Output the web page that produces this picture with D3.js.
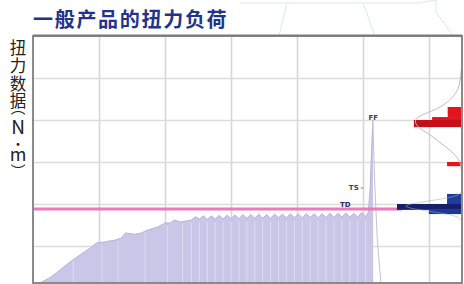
<!DOCTYPE html>
<html>
<head>
<meta charset="utf-8">
<script src="https://cdn.jsdelivr.net/npm/d3@7"></script>
<style>
  html, body { margin: 0; padding: 0; background: #fff; }
  svg { display: block; }
</style>
</head>
<body>
<svg id="chart" width="464" height="284"></svg>
<script>
// torque curve of one tightening (time units, N·m scaled)
var timeS = [0, 2.1, 5.2, 8.2, 11.2, 14.3, 17.3, 19.2, 21.9, 24.9, 26.8, 28.0, 31.0, 32.8, 34.7, 37.7, 40.1, 41.6, 42.9, 44.7, 46.5,
  48.0, 49.2, 50.4, 51.6, 52.8, 54.0, 55.2, 56.4, 57.6, 58.8, 60.0, 61.2, 62.4, 63.6, 64.8, 66.0, 67.2, 68.4, 69.6, 70.8,
  72.0, 73.2, 74.4, 75.6, 76.8, 78.0, 79.2, 80.4, 81.6, 82.8, 84.0, 85.2, 86.4, 87.6, 88.8, 90.0, 91.2, 92.4, 93.6, 94.8,
  96.0, 97.2, 98.4, 99.6, 100.8, 101.6, 102.2, 102.6, 103.0, 103.1];
var torque = [0.05, 0.12, 0.25, 0.43, 0.62, 0.79, 0.95, 1.07, 1.10, 1.14, 1.19, 1.31, 1.28, 1.31, 1.38, 1.45, 1.55, 1.55, 1.62, 1.57, 1.60,
  1.62, 1.70, 1.64, 1.72, 1.63, 1.72, 1.64, 1.73, 1.64, 1.74, 1.65, 1.74, 1.65, 1.75, 1.66, 1.75, 1.66, 1.76, 1.66, 1.75,
  1.66, 1.76, 1.67, 1.76, 1.67, 1.77, 1.67, 1.76, 1.67, 1.77, 1.68, 1.77, 1.67, 1.77, 1.68, 1.78, 1.68, 1.78, 1.69, 1.79,
  1.69, 1.78, 1.69, 1.80, 1.70, 1.80, 2.40, 3.30, 4.00, 0.00];

// release of the tool after final torque (thin trace only)
var tailTime = [103.0, 103.5, 104.3, 105.0, 105.6];
var tailTorque = [4.00, 2.60, 1.20, 0.50, 0.00];

// cycle boundaries visible as light stripes in the ramp-up part
var rampStripes = [12.2, 20.9, 25.8, 34.0, 40.8, 45.3];

// event labels
var eventNames = ["TD", "TS", "FF"];
var eventTime = [94.6, 99.6, 103.1];
var eventTorque = [1.98, 2.38, 4.05];

// limit line
var limitTorque = 1.88;
var limitEnd = 111.8;

// histograms on the right (bins in N·m, counts)
var redBinLo = [4.07, 4.00, 3.83, 2.90];
var redBinHi = [4.31, 4.07, 4.00, 3.00];
var redCount = [2.2, 4.6, 7.4, 2.3];
var blueBinLo = [2.00, 1.86, 1.76];
var blueBinHi = [2.24, 2.00, 1.86];
var blueCount = [2.3, 10.0, 5.1];

// fitted distribution outlines
var redCurveT = [5.43, 5.19, 4.95, 4.71, 4.55, 4.31, 4.12, 4.00, 3.83, 3.71, 3.60, 3.43, 3.29, 3.10, 2.93, 2.69];
var redCurveN = [0.05, 0.1, 0.25, 0.6, 1.4, 3.0, 6.3, 7.4, 6.9, 5.5, 4.5, 3.1, 1.9, 0.6, 0.15, 0.05];
var blueCurveT = [2.30, 2.20, 2.14, 2.05, 1.95, 1.85, 1.76, 1.70, 1.60];
var blueCurveN = [0, 0.6, 2.3, 6.0, 10.0, 6.0, 2.3, 0.6, 0];

// axes
var xTicks = [20, 40, 60, 80, 100, 120];
var yTicks = [1, 2, 3, 4, 5];
var titleText = "一般产品的扭力负荷";
var yLabelChars = ["扭", "力", "数", "据", "︵", "N", "・", "m", "︶"];

var mLeft = 33, mTop = 36, mRight = 462, mBottom = 283;
var w = mRight - mLeft, h = mBottom - mTop;

var svg = d3.select("#chart");

var x = d3.scaleLinear().domain([0, 130]).range([mLeft, mRight]);
var y = d3.scaleLinear().domain([0, 6]).range([288, 36]);
var cnt = d3.scaleLinear().domain([0, 10]).range([mRight, mRight - 65]);

// faint background decoration at the top
var deco = svg.append("g").attr("fill", "none").attr("stroke", "#d7e8f7").attr("stroke-width", 1);
deco.append("path").attr("d", "M240,3 L287,3 L279,36 M287,3 L363,3 L375,36 M363,3 L417,3 L436,0 M436,0 L436,12 L452,34");

// title
svg.append("text")
  .attr("x", 33).attr("y", 27)
  .attr("font-family", "'Noto Sans CJK SC', sans-serif")
  .attr("font-weight", "bold")
  .attr("font-size", 20)
  .attr("letter-spacing", 1.7)
  .attr("fill", "#22338c")
  .text(titleText);

// y label, stacked characters, each centred on its slot
// (the vertical bracket glyphs sit off-centre in their em box, hence the shifted slots)
var yLabelPos = [46.5, 64.5, 82.5, 99.5, 106.5, 125.5, 143, 152.5, 170.5];
var yLabelSize = [16.5, 16.5, 16.5, 16.5, 15, 19, 13, 18, 15];
var ylab = svg.append("g").selectAll("text")
  .data(yLabelChars)
  .join("text")
  .attr("x", 0).attr("y", 0)
  .attr("text-anchor", "middle")
  .attr("dominant-baseline", "central")
  .attr("font-family", "'Noto Sans CJK SC', sans-serif")
  .attr("font-size", function(d, i) { return yLabelSize[i]; })
  .attr("fill", "#222")
  .text(function(d) { return d; });
ylab.each(function(d, i) {
  var bb = this.getBBox();
  var cy = bb.y + bb.height / 2;
  d3.select(this).attr("transform", "translate(18," + (yLabelPos[i] - cy) + ")");
});

svg.append("defs").append("clipPath").attr("id", "plotclip")
  .append("rect").attr("x", mLeft).attr("y", mTop).attr("width", w).attr("height", h);

var plot = svg.append("g").attr("clip-path", "url(#plotclip)");

// gridlines
plot.append("g")
  .attr("transform", "translate(0," + mBottom + ")")
  .call(d3.axisBottom(x).tickValues(xTicks).tickSize(-h).tickFormat(""))
  .call(function(g) {
    g.select(".domain").remove();
    g.selectAll("line").attr("stroke", "#d6d6d6").attr("stroke-width", 1.6);
  });
plot.append("g")
  .attr("transform", "translate(" + mLeft + ",0)")
  .call(d3.axisLeft(y).tickValues(yTicks).tickSize(-w).tickFormat(""))
  .call(function(g) {
    g.select(".domain").remove();
    g.selectAll("line").attr("stroke", "#dcdcdc").attr("stroke-width", 1.4);
  });

// torque curve area
var pts = timeS.map(function(t, i) { return [t, torque[i]]; });
var area = d3.area()
  .x(function(d) { return x(d[0]); })
  .y0(y(0))
  .y1(function(d) { return y(d[1]); });
var line = d3.line()
  .x(function(d) { return x(d[0]); })
  .y(function(d) { return y(d[1]); });

plot.append("path").datum(pts)
  .attr("d", area)
  .attr("fill", "#cac6e8");

// light stripes at cycle troughs
var stripeX = rampStripes.concat(pts.filter(function(d, i) { return i > 20 && i < 66 && i % 2 === 1; }).map(function(d) { return d[0]; }));
plot.append("g").selectAll("line")
  .data(stripeX)
  .join("line")
  .attr("x1", function(d) { return x(d); })
  .attr("x2", function(d) { return x(d); })
  .attr("y1", y(0))
  .attr("y2", function(d) {
    var i = Math.min(d3.bisectLeft(timeS, d), timeS.length - 1);
    return y(torque[i]) + 3;
  })
  .attr("stroke", "#ffffff")
  .attr("stroke-opacity", 0.38)
  .attr("stroke-width", 1);

plot.append("path").datum(pts.slice(0, pts.length - 1))
  .attr("d", line)
  .attr("fill", "none")
  .attr("stroke", "#b8b3dc")
  .attr("stroke-width", 1);

plot.append("path").datum(tailTime.map(function(t, i) { return [t, tailTorque[i]]; }))
  .attr("d", line)
  .attr("fill", "none")
  .attr("stroke", "#c4c4cc")
  .attr("stroke-width", 1);

// limit line
plot.append("line")
  .attr("x1", x(0)).attr("x2", x(limitEnd))
  .attr("y1", y(limitTorque)).attr("y2", y(limitTorque))
  .attr("stroke", "#ee78b8")
  .attr("stroke-width", 3);

// event labels
var ev = plot.append("g").selectAll("g")
  .data(eventNames)
  .join("g")
  .attr("transform", function(d, i) { return "translate(" + x(eventTime[i]) + "," + y(eventTorque[i]) + ")"; });
ev.append("text")
  .attr("text-anchor", function(d) { return d === "TS" ? "end" : "middle"; })
  .attr("x", function(d) { return d === "TS" ? -3 : 0; })
  .attr("dy", "0.35em")
  .attr("font-family", "'DejaVu Sans', sans-serif")
  .attr("font-weight", "bold")
  .attr("font-size", 7)
  .attr("fill", function(d) { return d === "TD" ? "#2b2b6e" : "#444"; })
  .text(function(d) { return d; });
ev.filter(function(d) { return d === "TS"; }).append("line")
  .attr("x1", -1).attr("x2", 2)
  .attr("stroke", "#888").attr("stroke-width", 1);

// red histogram
plot.append("g").selectAll("rect")
  .data(redCount)
  .join("rect")
  .attr("x", function(d) { return cnt(d); })
  .attr("width", function(d) { return mRight - cnt(d); })
  .attr("y", function(d, i) { return y(redBinHi[i]); })
  .attr("height", function(d, i) { return y(redBinLo[i]) - y(redBinHi[i]); })
  .attr("fill", function(d, i) { return i === 2 ? "#c3101a" : "#e3141c"; });

// blue histogram
var blueFill = ["#1f3d9c", "#151f6e", "#1b3894"];
plot.append("g").selectAll("rect")
  .data(blueCount)
  .join("rect")
  .attr("x", function(d) { return cnt(d); })
  .attr("width", function(d) { return mRight - cnt(d); })
  .attr("y", function(d, i) { return y(blueBinHi[i]); })
  .attr("height", function(d, i) { return y(blueBinLo[i]) - y(blueBinHi[i]); })
  .attr("fill", function(d, i) { return blueFill[i]; });

// distribution outlines
var curve = d3.line()
  .x(function(d) { return cnt(d[1]); })
  .y(function(d) { return y(d[0]); })
  .curve(d3.curveBasis);
plot.append("path")
  .datum(redCurveT.map(function(t, i) { return [t, redCurveN[i]]; }))
  .attr("d", curve)
  .attr("fill", "none").attr("stroke", "#bdbdbd").attr("stroke-width", 1);
plot.append("path")
  .datum(blueCurveT.map(function(t, i) { return [t, blueCurveN[i]]; }))
  .attr("d", curve)
  .attr("fill", "none").attr("stroke", "#b0b0a0").attr("stroke-width", 0.8).attr("stroke-opacity", 0.7);

// frame
svg.append("rect")
  .attr("x", mLeft).attr("y", mTop).attr("width", w).attr("height", h)
  .attr("fill", "none").attr("stroke", "#8a8a8a").attr("stroke-width", 2);
svg.append("line")
  .attr("x1", mLeft).attr("x2", mRight).attr("y1", mTop - 0.5).attr("y2", mTop - 0.5)
  .attr("stroke", "#7a7a7a").attr("stroke-width", 2);
</script>
</body>
</html>
